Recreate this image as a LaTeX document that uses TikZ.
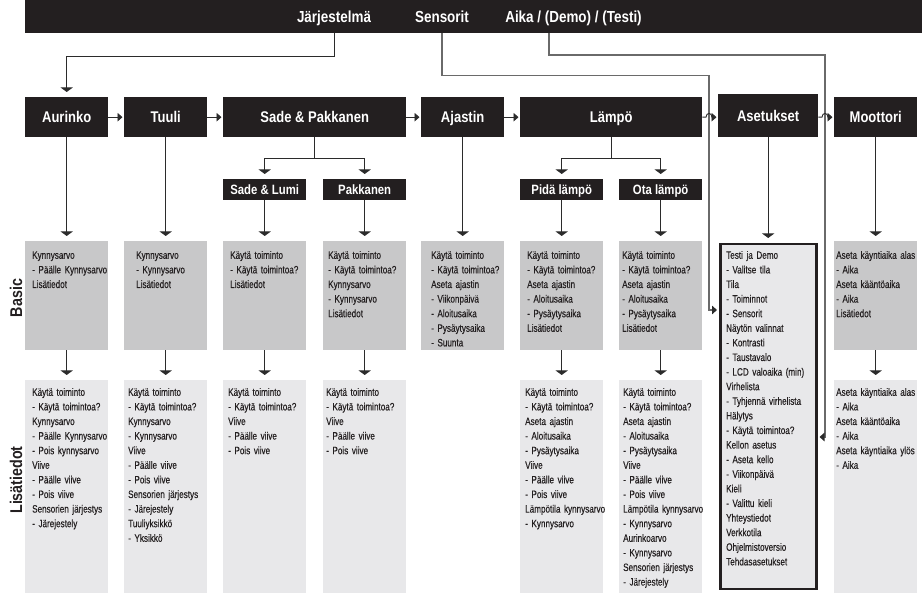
\documentclass[tikz,border=0pt]{standalone}
\usepackage{fontspec}
\setmainfont{Liberation Sans}[FakeStretch=0.84]
\newfontfamily\boxfont{Liberation Sans}[FakeStretch=0.76, FakeBold=0.3]
\usetikzlibrary{arrows.meta}
\definecolor{hdblack}{HTML}{231F20}
\definecolor{basgray}{HTML}{C8C8C9}
\definecolor{lisgray}{HTML}{E8E8EA}
\definecolor{wiregray}{HTML}{6A6A6A}
\definecolor{linedark}{HTML}{2B2B2B}

\begin{document}
\begin{tikzpicture}[
  x=1pt, y=-1pt,
  hd/.style={fill=hdblack, text=white, font=\fontsize{15.5}{18}\selectfont\bfseries,
             anchor=north west, inner sep=0pt, text height=11pt, text depth=0pt,
             minimum width=83pt, minimum height=40pt},
  subhd/.style={hd, font=\fontsize{13.5}{16}\selectfont\bfseries, text height=9.7pt,
                minimum height=21pt},
  bartxt/.style={text=white, font=\fontsize{16}{19}\selectfont\bfseries,
                 inner sep=0pt, anchor=base},
  side/.style={text=hdblack, font=\fontsize{17}{20}\selectfont\bfseries,
               rotate=90, inner sep=0pt},
  bas/.style={fill=basgray, anchor=north west, inner sep=0pt,
              minimum width=83pt, minimum height=109pt},
  lis/.style={fill=lisgray, anchor=north west, inner sep=0pt,
              minimum width=83pt, minimum height=216pt},
  txt/.style={text=hdblack, font=\boxfont\fontsize{10.7}{14.6}\selectfont, align=left,
              text width=100pt, inner sep=0pt, anchor=base west},
  con/.style={draw=linedark, line width=0.9pt},
  dn/.style={con, -{Triangle[width=12pt,length=4.5pt]}, shorten >=5pt},
  rt/.style={con, -{Triangle[width=8.5pt,length=5pt]}, shorten >=1.5pt},
  wire/.style={draw=wiregray, line width=1.3pt,
               -{Triangle[width=8.5pt,length=5pt,color=linedark]}, shorten >=2pt}
]
\useasboundingbox (0,0) rectangle (922,593);

% Top bar with the three entry points.
\node[fill=hdblack, anchor=north west, inner sep=0pt,
      minimum width=897pt, minimum height=33pt] (bar) at (25,0) {};
\node[bartxt] (jarj) at (334,23) {Järjestelmä};
\node[bartxt] (sens) at (442,23) {Sensorit};
\node[bartxt] (aika) at (573.5,23) {Aika / (Demo) / (Testi)};

% Main menu row.
\node[hd] (aurinko) at (25,97) {Aurinko};
\node[hd] (tuuli) at (124,97) {Tuuli};
\node[hd, minimum width=183pt] (sadepak) at (223,97) {Sade \& Pakkanen};
\node[hd] (ajastin) at (421,97) {Ajastin};
\node[hd, minimum width=182pt] (lampo) at (520,97) {Lämpö};
\node[hd, minimum width=100pt, minimum height=43pt] (aset) at (718,94) {Asetukset};
\node[hd] (moottori) at (834,97) {Moottori};

% Sub menus.
\node[subhd] (sadelumi) at (223,179) {Sade \& Lumi};
\node[subhd] (pakkanen) at (323,179) {Pakkanen};
\node[subhd] (pida) at (520,179) {Pidä lämpö};
\node[subhd] (ota) at (619,179) {Ota lämpö};

% Row labels.
\node[side] (lblbasic) at (16,298) {Basic};
\node[side] (lbllis) at (16,480) {Lisätiedot};

% Basic row.
\node[bas] (b1) at (25,241) {};
\node[bas] (b2) at (124,241) {};
\node[bas] (b3) at (223,241) {};
\node[bas] (b4) at (323,241) {};
\node[bas] (b5) at (421,241) {};
\node[bas] (b6) at (520,241) {};
\node[bas] (b7) at (619,241) {};
\node[bas] (b9) at (834,241) {};

% Lisätiedot row.
\node[lis] (l1) at (25,380) {};
\node[lis] (l2) at (124,380) {};
\node[lis] (l3) at (223,380) {};
\node[lis] (l4) at (323,380) {};
\node[lis] (l6) at (520,380) {};
\node[lis] (l7) at (619,380) {};
\node[lis] (l9) at (834,380) {};

% Settings box spans both rows.
\node[draw=hdblack, line width=2.5pt, fill=lisgray, anchor=north west, inner sep=0pt,
      minimum width=96pt, minimum height=345pt] (asetbox) at (719,243) {};

% Box texts, basic row.
\node[txt] (tb1) at ([shift={(7,17.8)}]b1.north west)
  {Kynnysarvo\\- Päälle Kynnysarvo\\Lisätiedot};
\node[txt] (tb2) at ([shift={(12,17.8)}]b2.north west)
  {Kynnysarvo\\- Kynnysarvo\\Lisätiedot};
\node[txt] (tb3) at ([shift={(7,17.8)}]b3.north west)
  {Käytä toiminto\\- Käytä toimintoa?\\Lisätiedot};
\node[txt] (tb4) at ([shift={(5,17.8)}]b4.north west)
  {Käytä toiminto\\- Käytä toimintoa?\\Kynnysarvo\\- Kynnysarvo\\Lisätiedot};
\node[txt] (tb5) at ([shift={(10,17.8)}]b5.north west)
  {Käytä toiminto\\- Käytä toimintoa?\\Aseta ajastin\\- Viikonpäivä\\- Aloitusaika\\- Pysäytysaika\\- Suunta};
\node[txt] (tb6) at ([shift={(7,17.8)}]b6.north west)
  {Käytä toiminto\\- Käytä toimintoa?\\Aseta ajastin\\- Aloitusaika\\- Pysäytysaika\\Lisätiedot};
\node[txt] (tb7) at ([shift={(3,17.8)}]b7.north west)
  {Käytä toiminto\\- Käytä toimintoa?\\Aseta ajastin\\- Aloitusaika\\- Pysäytysaika\\Lisätiedot};
\node[txt] (tb9) at ([shift={(2,17.8)}]b9.north west)
  {Aseta käyntiaika alas\\- Aika\\Aseta kääntöaika\\- Aika\\Lisätiedot};

% Box texts, lisätiedot row.
\node[txt] (tl1) at ([shift={(7,15.8)}]l1.north west)
  {Käytä toiminto\\- Käytä toimintoa?\\Kynnysarvo\\- Päälle Kynnysarvo\\- Pois kynnysarvo\\Viive\\- Päälle viive\\- Pois viive\\Sensorien järjestys\\- Järejestely};
\node[txt] (tl2) at ([shift={(4,15.8)}]l2.north west)
  {Käytä toiminto\\- Käytä toimintoa?\\Kynnysarvo\\- Kynnysarvo\\Viive\\- Päälle viive\\- Pois viive\\Sensorien järjestys\\- Järejestely\\Tuuliyksikkö\\- Yksikkö};
\node[txt] (tl3) at ([shift={(5,15.8)}]l3.north west)
  {Käytä toiminto\\- Käytä toimintoa?\\Viive\\- Päälle viive\\- Pois viive};
\node[txt] (tl4) at ([shift={(3,15.8)}]l4.north west)
  {Käytä toiminto\\- Käytä toimintoa?\\Viive\\- Päälle viive\\- Pois viive};
\node[txt] (tl6) at ([shift={(5,15.8)}]l6.north west)
  {Käytä toiminto\\- Käytä toimintoa?\\Aseta ajastin\\- Aloitusaika\\- Pysäytysaika\\Viive\\- Päälle viive\\- Pois viive\\Lämpötila kynnysarvo\\- Kynnysarvo};
\node[txt] (tl7) at ([shift={(4,15.8)}]l7.north west)
  {Käytä toiminto\\- Käytä toimintoa?\\Aseta ajastin\\- Aloitusaika\\- Pysäytysaika\\Viive\\- Päälle viive\\- Pois viive\\Lämpötila kynnysarvo\\- Kynnysarvo\\Aurinkoarvo\\- Kynnysarvo\\Sensorien järjestys\\- Järejestely};
\node[txt] (tl9) at ([shift={(2,15.8)}]l9.north west)
  {Aseta käyntiaika alas\\- Aika\\Aseta kääntöaika\\- Aika\\Aseta käyntiaika ylös\\- Aika};
\node[txt] (tset) at ([shift={(7,15.8)}]asetbox.north west)
  {Testi ja Demo\\- Valitse tila\\Tila\\- Toiminnot\\- Sensorit\\Näytön valinnat\\- Kontrasti\\- Taustavalo\\- LCD valoaika (min)\\Virhelista\\- Tyhjennä virhelista\\Hälytys\\- Käytä toimintoa?\\Kellon asetus\\- Aseta kello\\- Viikonpäivä\\Kieli\\- Valittu kieli\\Yhteystiedot\\Verkkotila\\Ohjelmistoversio\\Tehdasasetukset};

% Lines from the top bar.
\coordinate (sensdrop) at (709,310);
\coordinate (aikatop) at (549,33);
\coordinate (aikadrop) at (825,437);
\draw[dn] (jarj |- bar.south) -- ++(0,23) -| (aurinko.north);
\draw[wire] (sens |- bar.south) -- ++(0,42) -| (sensdrop) -- (sensdrop -| asetbox.west);
\draw[wire] (aikatop) -- ++(0,22) -| (aikadrop) -- (aikadrop -| asetbox.east);

% Menu order, hopping over the two long lines.
\draw[rt] (aurinko) -- (tuuli);
\draw[rt] (tuuli) -- (sadepak);
\draw[rt] (sadepak) -- (ajastin);
\draw[rt] (ajastin) -- (lampo);
\coordinate (hopA) at (sensdrop |- lampo.east);
\coordinate (hopB) at (aikadrop |- lampo.east);
\draw[rt] (lampo.east) -- ([xshift=-3pt]hopA)
  .. controls +(0,-5) and +(0,-5) .. ([xshift=3pt]hopA) -- (aset.west |- hopA);
\draw[rt] (aset.east |- hopB) -- ([xshift=-3pt]hopB)
  .. controls +(0,-5) and +(0,-5) .. ([xshift=3pt]hopB) -- (moottori.west |- hopB);

% Branches to the sub menus.
\draw[dn] (sadepak.south) -- ++(0,21) -| (sadelumi.north);
\draw[dn] (sadepak.south) -- ++(0,21) -| (pakkanen.north);
\draw[dn] (lampo.south) -- ++(0,21) -| (pida.north);
\draw[dn] (lampo.south) -- ++(0,21) -| (ota.north);

% Down to the basic row.
\draw[dn] (aurinko) -- (b1);
\draw[dn] (tuuli) -- (b2);
\draw[dn] (sadelumi) -- (b3);
\draw[dn] (pakkanen) -- (b4);
\draw[dn] (ajastin) -- (b5);
\draw[dn] (pida) -- (b6);
\draw[dn] (ota) -- (b7);
\draw[dn] (aset.south) -- (aset.south |- asetbox.north);
\draw[dn] (moottori) -- (b9);

% Basic to lisätiedot.
\draw[dn] (b1) -- (l1);
\draw[dn] (b2) -- (l2);
\draw[dn] (b3) -- (l3);
\draw[dn] (b4) -- (l4);
\draw[dn] (b6) -- (l6);
\draw[dn] (b7) -- (l7);
\draw[dn] (b9) -- (l9);
\end{tikzpicture}
\end{document}
